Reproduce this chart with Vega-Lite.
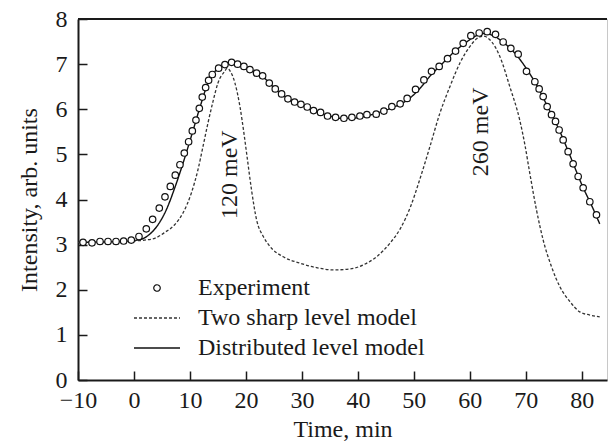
{
  "$schema": "https://vega.github.io/schema/vega-lite/v6.json",
  "width": 529,
  "height": 361,
  "autosize": {"type": "none"},
  "padding": {"left": 78, "top": 19, "right": 1, "bottom": 66},
  "background": "white",
  "config": {
    "view": {"stroke": "#c8c8c8", "strokeWidth": 1},
    "font": "Liberation Serif",
    "axis": {
      "labelFont": "Liberation Serif",
      "labelFontSize": 24,
      "labelColor": "#1a1a1a",
      "titleFont": "Liberation Serif",
      "titleFontSize": 24,
      "titleFontWeight": "normal",
      "titleColor": "#1a1a1a",
      "domainColor": "#1a1a1a",
      "domainWidth": 2,
      "tickColor": "#1a1a1a",
      "tickWidth": 1.5,
      "tickSize": -9,
      "grid": false
    },
    "legend": {
      "title": null,
      "orient": "none",
      "legendX": 67,
      "legendY": 257,
      "symbolSize": 42,
      "symbolFillColor": "white",
      "symbolStrokeColor": "#111111",
      "symbolStrokeWidth": 1.3,
      "labelFont": "Liberation Serif",
      "labelFontSize": 24,
      "labelColor": "#1a1a1a",
      "labelOffset": 29,
      "labelLimit": 400,
      "rowPadding": 6,
      "padding": 0
    }
  },
  "data": {
    "values": [
      {"t": -9.1, "y": 3.05, "series": "Experiment"},
      {"t": -7.5, "y": 3.04, "series": "Experiment"},
      {"t": -6.07, "y": 3.07, "series": "Experiment"},
      {"t": -4.64, "y": 3.07, "series": "Experiment"},
      {"t": -3.21, "y": 3.07, "series": "Experiment"},
      {"t": -1.85, "y": 3.08, "series": "Experiment"},
      {"t": -0.48, "y": 3.10, "series": "Experiment"},
      {"t": 0.89, "y": 3.18, "series": "Experiment"},
      {"t": 2.2, "y": 3.35, "series": "Experiment"},
      {"t": 3.33, "y": 3.56, "series": "Experiment"},
      {"t": 4.52, "y": 3.81, "series": "Experiment"},
      {"t": 5.54, "y": 4.06, "series": "Experiment"},
      {"t": 6.49, "y": 4.29, "series": "Experiment"},
      {"t": 7.38, "y": 4.54, "series": "Experiment"},
      {"t": 8.21, "y": 4.77, "series": "Experiment"},
      {"t": 8.99, "y": 5.03, "series": "Experiment"},
      {"t": 9.76, "y": 5.28, "series": "Experiment"},
      {"t": 10.42, "y": 5.52, "series": "Experiment"},
      {"t": 11.07, "y": 5.76, "series": "Experiment"},
      {"t": 11.67, "y": 6.02, "series": "Experiment"},
      {"t": 12.2, "y": 6.27, "series": "Experiment"},
      {"t": 12.8, "y": 6.48, "series": "Experiment"},
      {"t": 13.33, "y": 6.64, "series": "Experiment"},
      {"t": 13.99, "y": 6.77, "series": "Experiment"},
      {"t": 15.12, "y": 6.91, "series": "Experiment"},
      {"t": 16.25, "y": 6.99, "series": "Experiment"},
      {"t": 17.44, "y": 7.04, "series": "Experiment"},
      {"t": 18.51, "y": 7.0, "series": "Experiment"},
      {"t": 19.64, "y": 6.95, "series": "Experiment"},
      {"t": 20.71, "y": 6.88, "series": "Experiment"},
      {"t": 21.9, "y": 6.8, "series": "Experiment"},
      {"t": 22.98, "y": 6.74, "series": "Experiment"},
      {"t": 24.17, "y": 6.58, "series": "Experiment"},
      {"t": 25.24, "y": 6.45, "series": "Experiment"},
      {"t": 26.37, "y": 6.34, "series": "Experiment"},
      {"t": 27.5, "y": 6.23, "series": "Experiment"},
      {"t": 28.69, "y": 6.16, "series": "Experiment"},
      {"t": 29.82, "y": 6.11, "series": "Experiment"},
      {"t": 30.95, "y": 6.05, "series": "Experiment"},
      {"t": 32.08, "y": 5.97, "series": "Experiment"},
      {"t": 33.33, "y": 5.93, "series": "Experiment"},
      {"t": 34.58, "y": 5.85, "series": "Experiment"},
      {"t": 36.01, "y": 5.82, "series": "Experiment"},
      {"t": 37.5, "y": 5.8, "series": "Experiment"},
      {"t": 38.93, "y": 5.82, "series": "Experiment"},
      {"t": 40.36, "y": 5.85, "series": "Experiment"},
      {"t": 41.61, "y": 5.88, "series": "Experiment"},
      {"t": 43.27, "y": 5.89, "series": "Experiment"},
      {"t": 44.64, "y": 5.96, "series": "Experiment"},
      {"t": 46.07, "y": 6.06, "series": "Experiment"},
      {"t": 47.55, "y": 6.12, "series": "Experiment"},
      {"t": 48.8, "y": 6.24, "series": "Experiment"},
      {"t": 50.3, "y": 6.44, "series": "Experiment"},
      {"t": 51.79, "y": 6.65, "series": "Experiment"},
      {"t": 53.15, "y": 6.84, "series": "Experiment"},
      {"t": 54.52, "y": 6.95, "series": "Experiment"},
      {"t": 56.01, "y": 7.12, "series": "Experiment"},
      {"t": 57.44, "y": 7.29, "series": "Experiment"},
      {"t": 58.81, "y": 7.46, "series": "Experiment"},
      {"t": 60.18, "y": 7.63, "series": "Experiment"},
      {"t": 61.67, "y": 7.69, "series": "Experiment"},
      {"t": 63.1, "y": 7.72, "series": "Experiment"},
      {"t": 64.58, "y": 7.66, "series": "Experiment"},
      {"t": 65.95, "y": 7.49, "series": "Experiment"},
      {"t": 67.32, "y": 7.35, "series": "Experiment"},
      {"t": 68.63, "y": 7.22, "series": "Experiment"},
      {"t": 70.12, "y": 6.84, "series": "Experiment"},
      {"t": 71.61, "y": 6.61, "series": "Experiment"},
      {"t": 72.38, "y": 6.45, "series": "Experiment"},
      {"t": 73.1, "y": 6.28, "series": "Experiment"},
      {"t": 73.81, "y": 6.06, "series": "Experiment"},
      {"t": 74.59, "y": 5.88, "series": "Experiment"},
      {"t": 75.3, "y": 5.73, "series": "Experiment"},
      {"t": 75.95, "y": 5.54, "series": "Experiment"},
      {"t": 76.67, "y": 5.32, "series": "Experiment"},
      {"t": 77.56, "y": 5.06, "series": "Experiment"},
      {"t": 78.45, "y": 4.79, "series": "Experiment"},
      {"t": 79.35, "y": 4.51, "series": "Experiment"},
      {"t": 80.24, "y": 4.26, "series": "Experiment"},
      {"t": 81.43, "y": 3.95, "series": "Experiment"},
      {"t": 82.62, "y": 3.66, "series": "Experiment"},

      {"t": -10, "y": 3.05, "series": "Distributed level model"},
      {"t": -5, "y": 3.06, "series": "Distributed level model"},
      {"t": -1, "y": 3.08, "series": "Distributed level model"},
      {"t": 1.31, "y": 3.12, "series": "Distributed level model"},
      {"t": 2.8, "y": 3.23, "series": "Distributed level model"},
      {"t": 4.29, "y": 3.44, "series": "Distributed level model"},
      {"t": 5.77, "y": 3.77, "series": "Distributed level model"},
      {"t": 7.26, "y": 4.25, "series": "Distributed level model"},
      {"t": 8.75, "y": 4.8, "series": "Distributed level model"},
      {"t": 10.24, "y": 5.4, "series": "Distributed level model"},
      {"t": 11.73, "y": 6.02, "series": "Distributed level model"},
      {"t": 13.21, "y": 6.58, "series": "Distributed level model"},
      {"t": 14.7, "y": 6.87, "series": "Distributed level model"},
      {"t": 16.25, "y": 6.99, "series": "Distributed level model"},
      {"t": 17.5, "y": 7.02, "series": "Distributed level model"},
      {"t": 19, "y": 6.97, "series": "Distributed level model"},
      {"t": 21, "y": 6.86, "series": "Distributed level model"},
      {"t": 23, "y": 6.72, "series": "Distributed level model"},
      {"t": 25, "y": 6.48, "series": "Distributed level model"},
      {"t": 27, "y": 6.28, "series": "Distributed level model"},
      {"t": 29, "y": 6.15, "series": "Distributed level model"},
      {"t": 31, "y": 6.04, "series": "Distributed level model"},
      {"t": 33, "y": 5.93, "series": "Distributed level model"},
      {"t": 35, "y": 5.85, "series": "Distributed level model"},
      {"t": 37, "y": 5.8, "series": "Distributed level model"},
      {"t": 39, "y": 5.8, "series": "Distributed level model"},
      {"t": 41, "y": 5.84, "series": "Distributed level model"},
      {"t": 43, "y": 5.9, "series": "Distributed level model"},
      {"t": 45, "y": 5.98, "series": "Distributed level model"},
      {"t": 47, "y": 6.08, "series": "Distributed level model"},
      {"t": 49, "y": 6.22, "series": "Distributed level model"},
      {"t": 51, "y": 6.45, "series": "Distributed level model"},
      {"t": 53, "y": 6.75, "series": "Distributed level model"},
      {"t": 55, "y": 7.0, "series": "Distributed level model"},
      {"t": 57, "y": 7.25, "series": "Distributed level model"},
      {"t": 59, "y": 7.45, "series": "Distributed level model"},
      {"t": 61, "y": 7.62, "series": "Distributed level model"},
      {"t": 62.5, "y": 7.68, "series": "Distributed level model"},
      {"t": 64, "y": 7.64, "series": "Distributed level model"},
      {"t": 66, "y": 7.48, "series": "Distributed level model"},
      {"t": 68, "y": 7.25, "series": "Distributed level model"},
      {"t": 70, "y": 6.92, "series": "Distributed level model"},
      {"t": 72, "y": 6.52, "series": "Distributed level model"},
      {"t": 74, "y": 6.03, "series": "Distributed level model"},
      {"t": 76, "y": 5.53, "series": "Distributed level model"},
      {"t": 78, "y": 4.94, "series": "Distributed level model"},
      {"t": 80, "y": 4.33, "series": "Distributed level model"},
      {"t": 82, "y": 3.8, "series": "Distributed level model"},
      {"t": 83.2, "y": 3.46, "series": "Distributed level model"},

      {"t": -10, "y": 3.05, "series": "Two sharp level model"},
      {"t": -5, "y": 3.06, "series": "Two sharp level model"},
      {"t": -0.5, "y": 3.08, "series": "Two sharp level model"},
      {"t": 1.9, "y": 3.1, "series": "Two sharp level model"},
      {"t": 3.7, "y": 3.14, "series": "Two sharp level model"},
      {"t": 5.5, "y": 3.27, "series": "Two sharp level model"},
      {"t": 7.26, "y": 3.44, "series": "Two sharp level model"},
      {"t": 8.75, "y": 3.7, "series": "Two sharp level model"},
      {"t": 10.24, "y": 4.14, "series": "Two sharp level model"},
      {"t": 11.43, "y": 4.66, "series": "Two sharp level model"},
      {"t": 12.32, "y": 5.17, "series": "Two sharp level model"},
      {"t": 13.21, "y": 5.69, "series": "Two sharp level model"},
      {"t": 14.11, "y": 6.17, "series": "Two sharp level model"},
      {"t": 15.0, "y": 6.58, "series": "Two sharp level model"},
      {"t": 16.19, "y": 6.84, "series": "Two sharp level model"},
      {"t": 16.67, "y": 6.91, "series": "Two sharp level model"},
      {"t": 17.3, "y": 6.82, "series": "Two sharp level model"},
      {"t": 18.04, "y": 6.58, "series": "Two sharp level model"},
      {"t": 18.93, "y": 6.06, "series": "Two sharp level model"},
      {"t": 19.64, "y": 5.47, "series": "Two sharp level model"},
      {"t": 20.2, "y": 4.95, "series": "Two sharp level model"},
      {"t": 21.0, "y": 4.21, "series": "Two sharp level model"},
      {"t": 21.9, "y": 3.55, "series": "Two sharp level model"},
      {"t": 23.1, "y": 3.18, "series": "Two sharp level model"},
      {"t": 24.29, "y": 2.96, "series": "Two sharp level model"},
      {"t": 26.66, "y": 2.73, "series": "Two sharp level model"},
      {"t": 29.64, "y": 2.59, "series": "Two sharp level model"},
      {"t": 32.6, "y": 2.49, "series": "Two sharp level model"},
      {"t": 35.6, "y": 2.44, "series": "Two sharp level model"},
      {"t": 38.57, "y": 2.46, "series": "Two sharp level model"},
      {"t": 40.95, "y": 2.55, "series": "Two sharp level model"},
      {"t": 43.33, "y": 2.73, "series": "Two sharp level model"},
      {"t": 45.71, "y": 3.03, "series": "Two sharp level model"},
      {"t": 47.6, "y": 3.36, "series": "Two sharp level model"},
      {"t": 49.4, "y": 3.84, "series": "Two sharp level model"},
      {"t": 51.07, "y": 4.45, "series": "Two sharp level model"},
      {"t": 52.86, "y": 5.17, "series": "Two sharp level model"},
      {"t": 54.64, "y": 5.91, "series": "Two sharp level model"},
      {"t": 56.43, "y": 6.5, "series": "Two sharp level model"},
      {"t": 58.21, "y": 7.02, "series": "Two sharp level model"},
      {"t": 60.0, "y": 7.39, "series": "Two sharp level model"},
      {"t": 61.2, "y": 7.56, "series": "Two sharp level model"},
      {"t": 62.4, "y": 7.62, "series": "Two sharp level model"},
      {"t": 63.87, "y": 7.5, "series": "Two sharp level model"},
      {"t": 65.36, "y": 7.17, "series": "Two sharp level model"},
      {"t": 67.14, "y": 6.5, "series": "Two sharp level model"},
      {"t": 68.93, "y": 5.75, "series": "Two sharp level model"},
      {"t": 69.82, "y": 5.22, "series": "Two sharp level model"},
      {"t": 70.71, "y": 4.58, "series": "Two sharp level model"},
      {"t": 71.9, "y": 3.77, "series": "Two sharp level model"},
      {"t": 73.1, "y": 3.1, "series": "Two sharp level model"},
      {"t": 74.59, "y": 2.51, "series": "Two sharp level model"},
      {"t": 76.07, "y": 2.07, "series": "Two sharp level model"},
      {"t": 77.86, "y": 1.74, "series": "Two sharp level model"},
      {"t": 79.64, "y": 1.51, "series": "Two sharp level model"},
      {"t": 81.43, "y": 1.44, "series": "Two sharp level model"},
      {"t": 83.2, "y": 1.4, "series": "Two sharp level model"}
    ]
  },
  "encoding": {
    "x": {
      "field": "t",
      "type": "quantitative",
      "scale": {"domain": [-10, 84.5], "nice": false, "zero": false},
      "axis": {"title": "Time, min", "values": [-10, 0, 10, 20, 30, 40, 50, 60, 70, 80], "labelPadding": 17, "titlePadding": 5, "labelFlush": false}
    },
    "y": {
      "field": "y",
      "type": "quantitative",
      "scale": {"domain": [0, 8], "nice": false},
      "axis": {"title": "Intensity, arb. units", "values": [0, 1, 2, 3, 4, 5, 6, 7, 8], "labelPadding": 20, "titlePadding": 14, "labelFlush": false}
    }
  },
  "layer": [
    {
      "mark": {"type": "rule", "color": "#1a1a1a", "strokeWidth": 2},
      "encoding": {"y": {"datum": 8}, "x": null}
    },
    {
      "transform": [{"filter": "datum.series !== 'Experiment'"}],
      "mark": {"type": "line", "interpolate": "monotone"},
      "encoding": {
        "stroke": {
          "field": "series",
          "type": "nominal",
          "scale": {"domain": ["Experiment", "Two sharp level model", "Distributed level model"], "range": ["#111111", "#333333", "#111111"]},
          "legend": {"title": null}
        },
        "strokeDash": {
          "field": "series",
          "type": "nominal",
          "scale": {"domain": ["Experiment", "Two sharp level model", "Distributed level model"], "range": [[1, 0], [3, 2], [1, 0]]},
          "legend": {"title": null}
        },
        "strokeWidth": {
          "field": "series",
          "type": "nominal",
          "scale": {"domain": ["Experiment", "Two sharp level model", "Distributed level model"], "range": [1.2, 1.4, 1.8]},
          "legend": null
        }
      }
    },
    {
      "transform": [{"filter": "datum.series === 'Experiment'"}],
      "mark": {"type": "point", "filled": false, "fill": "white", "fillOpacity": 1, "strokeWidth": 1.2, "size": 42, "opacity": 1},
      "encoding": {
        "stroke": {
          "field": "series",
          "type": "nominal",
          "scale": {"domain": ["Experiment", "Two sharp level model", "Distributed level model"], "range": ["#111111", "#333333", "#111111"]},
          "legend": {"title": null}
        },
        "shape": {
          "field": "series",
          "type": "nominal",
          "scale": {"domain": ["Experiment", "Two sharp level model", "Distributed level model"], "range": ["circle", "M-7.1,0H7.1", "M-7.1,0H7.1"]},
          "legend": {"title": null}
        }
      }
    },
    {
      "data": {"values": [
        {"t": 17.1, "y": 4.55, "label": "120 meV"},
        {"t": 61.96, "y": 5.5, "label": "260 meV"}
      ]},
      "mark": {"type": "text", "angle": 270, "align": "center", "baseline": "middle", "font": "Liberation Serif", "fontSize": 24, "color": "#1a1a1a"},
      "encoding": {"text": {"field": "label"}}
    }
  ]
}
